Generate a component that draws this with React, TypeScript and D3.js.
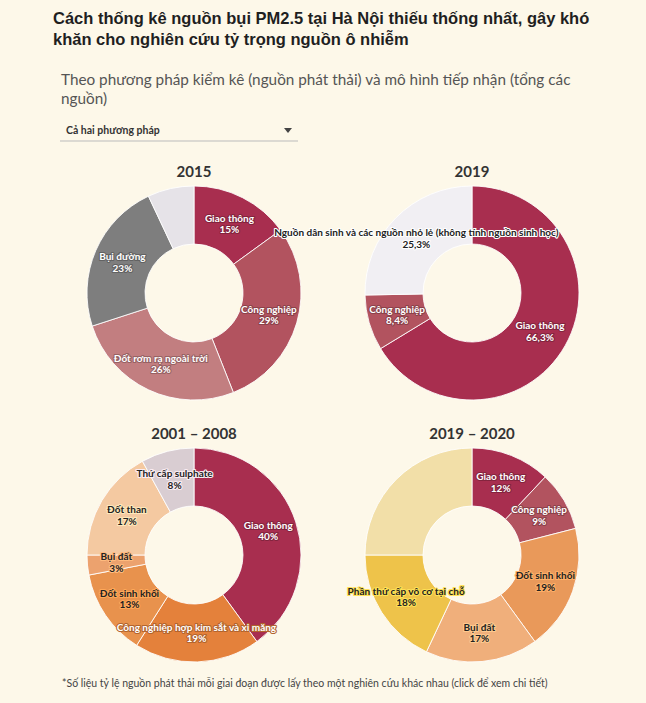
import React from 'react';
import * as d3 from 'd3';

// Tỷ trọng nguồn bụi PM2.5 (%)
const names2015 = ['Giao thông', 'Công nghiệp', 'Đốt rơm rạ ngoài trời', 'Bụi đường', ''];
const values2015 = [15, 29, 26, 23, 7];

const names2019 = ['Giao thông', 'Công nghiệp', 'Nguồn dân sinh và các nguồn nhỏ lẻ (không tính nguồn sinh học)'];
const values2019 = [66.3, 8.4, 25.3];

const names2001 = ['Giao thông', 'Công nghiệp hợp kim sắt và xi măng', 'Đốt sinh khối', 'Bụi đất', 'Đốt than', 'Thứ cấp sulphate'];
const values2001 = [40, 19, 13, 3, 17, 8];

const names2020 = ['Giao thông', 'Công nghiệp', 'Đốt sinh khối', 'Bụi đất', 'Phần thứ cấp vô cơ tại chỗ', ''];
const values2020 = [12, 9, 19, 17, 18, 25];

const colors2015 = ['#A82E4F', '#B2535F', '#C27E80', '#7E7E7E', '#E6E3E8'];
const colors2019 = ['#A82E4F', '#B2535F', '#F1EFF3'];
const colors2001 = ['#A82E4F', '#E4813B', '#E8924D', '#ECA26E', '#F4C9A1', '#D9CDD2'];
const colors2020 = ['#A82E4F', '#B2535F', '#E9995A', '#F0AF7B', '#EEC34A', '#F2DFA8'];

const W = 646;
const H = 703;
const R = 107;
const r = 49;
const bg = '#FDF8E9';

const charts = [
  { title: '2015', names: names2015, values: values2015, colors: colors2015, cx: 194, cy: 293 },
  { title: '2019', names: names2019, values: values2019, colors: colors2019, cx: 472, cy: 293 },
  { title: '2001 – 2008', names: names2001, values: values2001, colors: colors2001, cx: 194, cy: 555 },
  { title: '2019 – 2020', names: names2020, values: values2020, colors: colors2020, cx: 472, cy: 555 },
];

const fmt = (v: number) => String(v).replace('.', ',') + '%';

export default function App() {
  const pie = d3.pie<number>().sort(null).value(d => d);
  const arc = d3.arc<d3.PieArcDatum<number>>().innerRadius(r).outerRadius(R);
  const labelFont = 'Lato, "Open Sans", sans-serif';

  React.useEffect(() => {
    document.body.style.margin = '0';
    document.body.style.background = bg;
  }, []);

  return (
    <svg width={W} height={H} style={{ display: 'block', background: bg }}>
      <text fontFamily='"Liberation Sans", Arial, sans-serif' fontWeight="bold" fontSize={16.5} fill="#1f1f1f">
        <tspan x={53} y={24}>Cách thống kê nguồn bụi PM2.5 tại Hà Nội thiếu thống nhất, gây khó</tspan>
        <tspan x={53} y={45}>khăn cho nghiên cứu tỷ trọng nguồn ô nhiễm</tspan>
      </text>
      <text fontFamily={labelFont} fontSize={15.3} fill="#555">
        <tspan x={61} y={85}>Theo phương pháp kiểm kê (nguồn phát thải) và mô hình tiếp nhận (tổng các</tspan>
        <tspan x={61} y={104}>nguồn)</tspan>
      </text>
      <text x={66} y={134} fontFamily={labelFont} fontWeight="bold" fontSize={10.5} fill="#333">Cả hai phương pháp</text>
      <path d="M284,128 L292,128 L288,133 Z" fill="#444" />
      <line x1={60} x2={298} y1={141} y2={141} stroke="#bbb" strokeWidth={1} />

      {charts.map(c => (
        <g key={c.title} transform={`translate(${c.cx},${c.cy})`}>
          <text y={-R - 9} textAnchor="middle" fontFamily={labelFont} fontWeight="bold" fontSize={15} fill="#333">{c.title}</text>
          {pie(c.values).map((d, i) => (
            <path key={i} d={arc(d) || ''} fill={c.colors[i]} stroke="#fff" strokeOpacity={0.85} strokeWidth={1} />
          ))}
        </g>
      ))}

      {charts.map(c => (
        <g key={c.title + '-labels'} transform={`translate(${c.cx},${c.cy})`}>
          {pie(c.values).map((d, i) => {
            if (!c.names[i]) return null;
            const [x, y] = arc.centroid(d);
            const col = c.colors[i];
            const light = d3.lab(col).l > 66;
            const fill = light ? '#222' : '#fff';
            const halo = light ? d3.color(col)!.brighter(0.4).formatHex() : d3.color(col)!.darker(0.7).formatHex();
            return (
              <text key={i} textAnchor="middle" fontFamily={labelFont} fontWeight="bold" fontSize={10}
                fill={fill} stroke={halo} strokeWidth={2.2} strokeLinejoin="round" paintOrder="stroke">
                <tspan x={x} y={y - 2}>{c.names[i]}</tspan>
                <tspan x={x} y={y + 9.5}>{fmt(c.values[i])}</tspan>
              </text>
            );
          })}
        </g>
      ))}

      <text x={62} y={687} fontFamily={labelFont} fontSize={10.5} fill="#444">
        *Số liệu tỷ lệ nguồn phát thải mỗi giai đoạn được lấy theo một nghiên cứu khác nhau (click để xem chi tiết)
      </text>
    </svg>
  );
}
